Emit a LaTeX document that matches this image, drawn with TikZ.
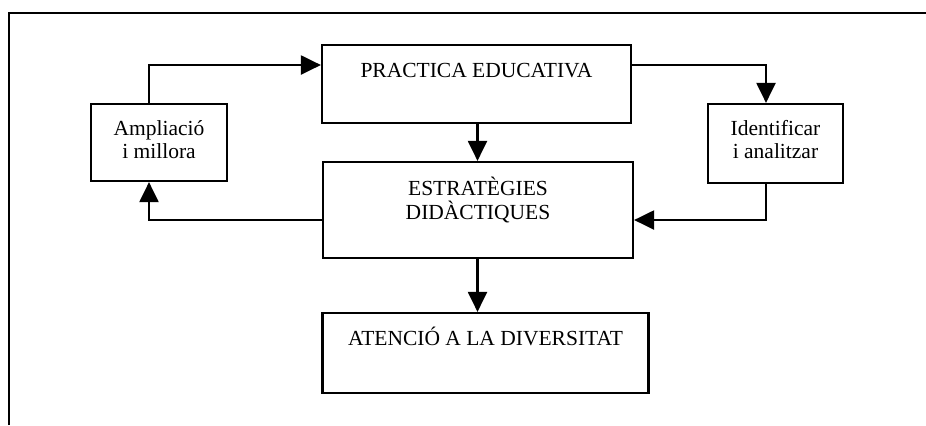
\documentclass[tikz,border=0pt]{standalone}
\usepackage{fontspec}
\setmainfont{Liberation Serif}
\usetikzlibrary{arrows.meta}
\newcommand\lifttext[2]{\raisebox{0pt}[\height][\dimexpr\depth+#1\relax]{#2}}
\begin{document}
\begin{tikzpicture}[x=0.5pt,y=-0.5pt,
  box/.style={draw, line width=1.1pt, inner sep=0pt, font=\fontsize{10.75}{11.5}\selectfont},
  conn/.style={line width=1.1pt},
  arr/.style={conn, -{Triangle[length=10pt,width=9.5pt]}}]
\useasboundingbox (0,0) rectangle (926,425);
% outer frame
\draw[line width=1.4pt] (9,425) -- (9,13) -- (926,13);
% boxes
\node[box, minimum width=154.5pt, text height=16pt, text depth=23pt] (prac) at (476.5,84) {PRACTICA EDUCATIVA};
\node[box, minimum width=68pt, minimum height=38.5pt] (ampl) at (159,142.5)
  {\begin{tabular}{@{}c@{}}Ampliació\\ i millora\end{tabular}};
\node[box, minimum width=67.5pt, minimum height=39.5pt] (iden) at (775.5,143.5)
  {\lifttext{1.5pt}{\begin{tabular}{@{}c@{}}Identificar\\ i analitzar\end{tabular}}};
\node[box, minimum width=155pt, minimum height=48pt] (estr) at (478,210)
  {\lifttext{8.5pt}{\fontsize{10.75}{10.75}\selectfont\begin{tabular}{@{}c@{}}ESTRATÈGIES\\ DIDÀCTIQUES\end{tabular}}};
\node[box, minimum width=163pt, text height=16pt, text depth=24pt] (aten) at (485.5,353) {ATENCIÓ A LA DIVERSITAT};
% routing coordinates
\coordinate (lx) at (149,65);
\coordinate (rx) at (766,65);
\coordinate (mx) at (477.5,220);
% connectors
\draw[arr] (ampl.north -| lx) |- (prac.west |- lx);
\draw[arr] (prac.east |- rx) -| (iden.north -| rx);
\draw[arr] (prac.south -| mx) -- (estr.north -| mx);
\draw[arr] (iden.south -| rx) |- (estr.east |- mx);
\draw[arr] (estr.west |- mx) -| (ampl.south -| lx);
\draw[arr] (estr.south -| mx) -- (aten.north -| mx);
\end{tikzpicture}
\end{document}
